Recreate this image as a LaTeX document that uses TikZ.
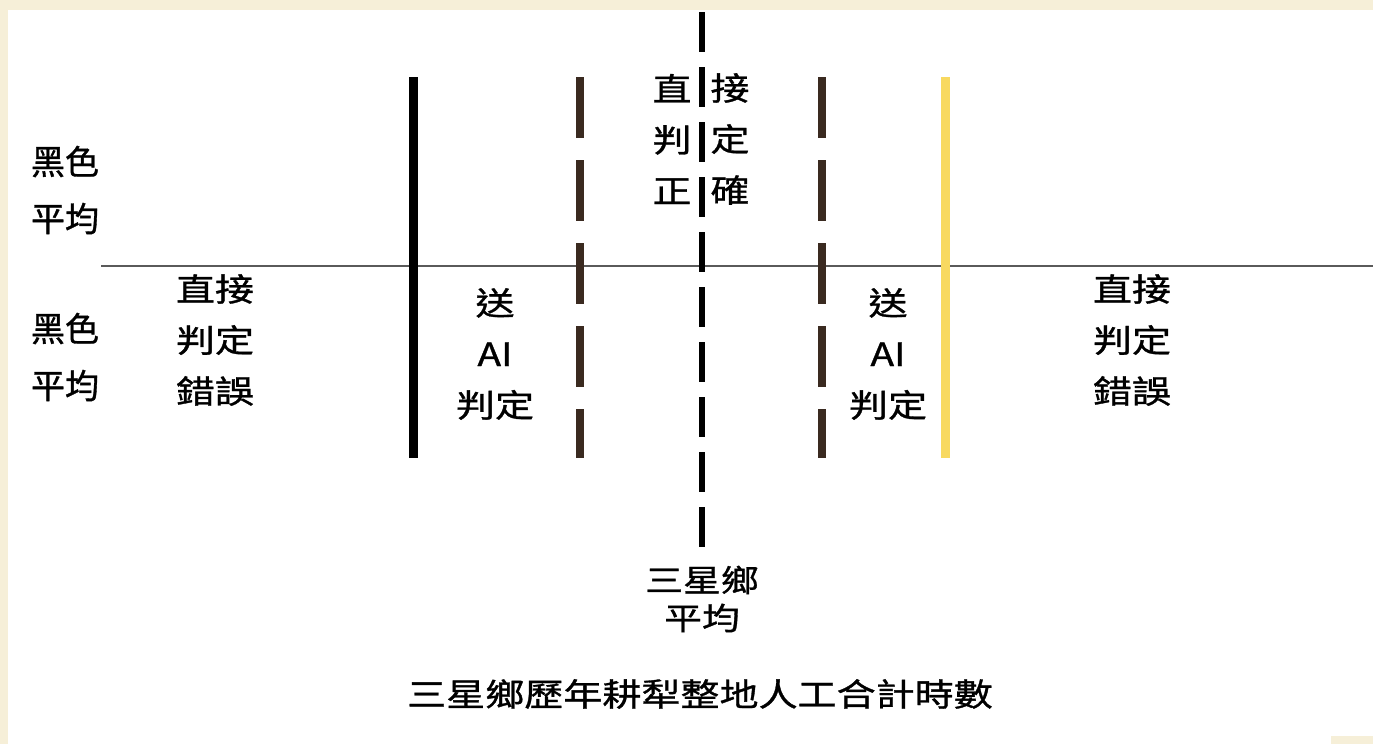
\documentclass[tikz,border=0pt]{standalone}
\usepackage{fontspec}
\setmainfont{Noto Sans CJK TC}
\newfontfamily\cjkw[FakeStretch=1.22,FakeBold=1]{Noto Sans CJK TC}
\newfontfamily\cjkn[FakeBold=1]{Noto Sans CJK TC}
\definecolor{cream}{HTML}{F6EFD8}
\definecolor{barbrown}{HTML}{3A2A20}
\definecolor{baryellow}{HTML}{F8D960}
\definecolor{axisgray}{HTML}{5A5A5A}
\begin{document}
\begin{tikzpicture}[x=1pt,y=-1pt,
  lbl/.style={align=center, inner sep=0pt, text=black, font=\cjkw\fontsize{32}{51}\selectfont},
  sidelbl/.style={align=center, inner sep=0pt, text=black, font=\cjkn\fontsize{34}{57}\selectfont},
  avglbl/.style={align=center, inner sep=0pt, text=black, font=\cjkw\fontsize{31}{38}\selectfont},
  titlelbl/.style={inner sep=0pt, text=black, font=\cjkw\fontsize{32}{38}\selectfont},
  solidbar/.style={line width=9pt, line cap=butt},
  brownbar/.style={line width=8pt, line cap=butt, color=barbrown, dash pattern=on 61pt off 22pt},
  centerbar/.style={line width=6pt, line cap=butt, black, dash pattern=on 40pt off 15pt},
  axisline/.style={line width=1.5pt, axisgray}
]
\useasboundingbox (0,0) rectangle (1373,744);
% background
\fill[cream] (0,0) rectangle (1373,744);
\fill[white] (8,10) rectangle (1373,744);
\fill[cream] (1331,736) rectangle (1373,744);

% coordinates
\coordinate (hL) at (101,266);
\coordinate (hR) at (1373,266);
\coordinate (b1t) at (413,77);  \coordinate (b1b) at (413,458);
\coordinate (b2t) at (580,77);  \coordinate (b2b) at (580,458);
\coordinate (ct)  at (702,12);  \coordinate (cb)  at (702,548);
\coordinate (b4t) at (822,77);  \coordinate (b4b) at (822,458);
\coordinate (b5t) at (945,77);  \coordinate (b5b) at (945,458);

% axis
\draw[axisline] (hL) -- (hR);
% bars
\draw[solidbar, black] (b1t) -- (b1b);
\draw[brownbar] (b2t) -- (b2b);
\draw[centerbar] (ct) -- (cb);
\draw[brownbar] (b4t) -- (b4b);
\draw[solidbar, baryellow] (b5t) -- (b5b);

% labels
\node[sidelbl] (lt1) at (65,190) {黑色\\平均};
\node[sidelbl] (lt2) at (65,357) {黑色\\平均};
\node[lbl] (ld) at (215,340) {直接\\判定\\錯誤};
\node[lbl] (lai) at (495,354) {送\\AI\\判定};
\node[lbl] (cl) at (672,139) {直\\判\\正};
\node[lbl] (cr) at (730,139) {接\\定\\確};
\node[lbl] (rai) at (888,354) {送\\AI\\判定};
\node[lbl] (rd) at (1132,340) {直接\\判定\\錯誤};
\node[avglbl] (avg) at (702,599) {三星鄉\\平均};
\node[titlelbl] (title) at (700,694) {三星鄉歷年耕犁整地人工合計時數};
\end{tikzpicture}
\end{document}
